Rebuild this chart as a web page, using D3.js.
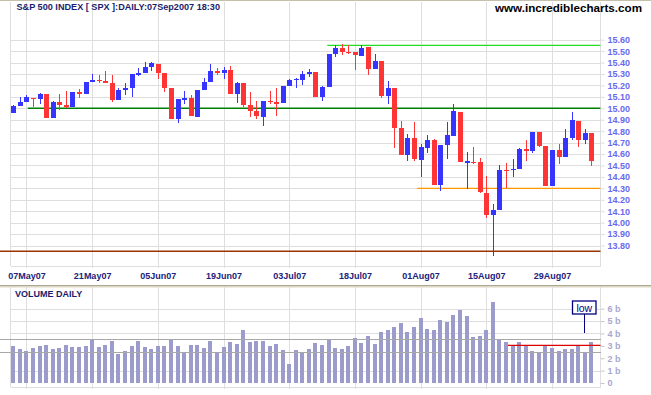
<!DOCTYPE html>
<html><head><meta charset="utf-8">
<script src="https://cdn.jsdelivr.net/npm/d3@7"></script>
<style>body{margin:0;background:#fff}svg{display:block}text{font-family:"Liberation Sans",Arial,sans-serif}</style>
</head><body><svg id="c" width="651" height="395"></svg>
<script>
const dates = ["03May07","04May07","07May07","08May07","09May07","10May07","11May07","14May07","15May07","16May07","17May07","18May07","21May07","22May07","23May07","24May07","25May07","29May07","30May07","31May07",
"01Jun07","04Jun07","05Jun07","06Jun07","07Jun07","08Jun07","11Jun07","12Jun07","13Jun07","14Jun07","15Jun07","18Jun07","19Jun07","20Jun07","21Jun07","22Jun07","25Jun07","26Jun07","27Jun07","28Jun07","29Jun07",
"02Jul07","03Jul07","05Jul07","06Jul07","09Jul07","10Jul07","11Jul07","12Jul07","13Jul07","16Jul07","17Jul07","18Jul07","19Jul07","20Jul07","23Jul07","24Jul07","25Jul07","26Jul07","27Jul07","30Jul07","31Jul07",
"01Aug07","02Aug07","03Aug07","06Aug07","07Aug07","08Aug07","09Aug07","10Aug07","13Aug07","14Aug07","15Aug07","16Aug07","17Aug07","20Aug07","21Aug07","22Aug07","23Aug07","24Aug07","27Aug07","28Aug07","29Aug07","30Aug07","31Aug07",
"04Sep07","05Sep07","06Sep07","07Sep07"];
const opens = [14.956,15.024,15.056,15.094,15.077,15.123,14.915,15.058,15.031,15.008,
15.140,15.127,15.228,15.251,15.241,15.221,15.075,15.156,15.176,15.302,
15.306,15.363,15.391,15.306,15.174,14.907,15.076,15.091,14.927,15.156,
15.230,15.329,15.310,15.337,15.125,15.222,15.026,14.977,14.923,15.063,
15.057,15.047,15.191,15.249,15.250,15.304,15.319,15.099,15.187,15.477,
15.525,15.495,15.492,15.461,15.532,15.341,15.416,15.110,15.181,14.824,
14.589,14.739,14.552,14.655,14.722,14.330,14.676,14.762,14.972,14.531,
14.534,14.529,14.262,14.066,14.113,14.459,14.456,14.470,14.641,14.623,
14.794,14.667,14.320,14.637,14.576,14.740,14.888,14.720,14.786];
const highs = [15.033,15.103,15.118,15.094,15.138,15.123,15.062,15.129,15.148,15.142,
15.171,15.228,15.299,15.292,15.324,15.293,15.174,15.218,15.302,15.356,
15.406,15.405,15.391,15.306,15.174,15.078,15.155,15.113,15.157,15.265,
15.387,15.354,15.359,15.373,15.229,15.222,15.143,15.061,15.068,15.148,
15.175,15.195,15.260,15.266,15.324,15.343,15.319,15.193,15.479,15.551,
15.559,15.553,15.492,15.552,15.532,15.472,15.416,15.243,15.181,14.885,
14.779,14.883,14.684,14.764,14.732,14.680,14.883,15.039,14.972,14.620,
14.663,14.567,14.408,14.160,14.503,14.518,14.553,14.649,14.721,14.794,
14.794,14.667,14.638,14.684,14.815,14.964,14.888,14.815,14.786];
const lows = [14.956,15.018,15.055,15.007,15.038,14.914,14.915,14.984,15.004,15.008,
15.093,15.127,15.227,15.221,15.219,15.052,15.075,15.120,15.101,15.283,
15.306,15.324,15.256,15.141,14.904,14.874,15.034,14.930,14.927,15.156,
15.230,15.293,15.257,15.124,15.048,15.007,14.927,14.905,14.842,15.034,
14.936,15.047,15.191,15.177,15.205,15.275,15.100,15.061,15.187,15.449,
15.467,15.477,15.337,15.461,15.292,15.341,15.086,15.037,14.653,14.590,
14.543,14.543,14.396,14.606,14.328,14.274,14.558,14.762,14.531,14.297,
14.515,14.262,14.044,13.706,14.113,14.305,14.398,14.470,14.539,14.605,
14.660,14.320,14.320,14.513,14.576,14.722,14.663,14.685,14.491];
const closes = [15.024,15.056,15.095,15.077,15.126,14.915,15.059,15.032,15.012,15.141,
15.128,15.228,15.251,15.241,15.223,15.075,15.157,15.181,15.302,15.306,
15.363,15.392,15.310,15.174,14.907,15.077,15.091,14.930,15.157,15.230,
15.329,15.311,15.337,15.128,15.222,15.026,14.977,14.929,15.063,15.057,
15.034,15.194,15.249,15.254,15.304,15.319,15.101,15.188,15.477,15.525,
15.495,15.494,15.462,15.531,15.341,15.416,15.110,15.181,14.827,14.590,
14.739,14.553,14.658,14.722,14.331,14.677,14.767,14.975,14.531,14.536,
14.529,14.265,14.067,14.113,14.459,14.456,14.471,14.641,14.625,14.794,
14.668,14.324,14.638,14.576,14.740,14.894,14.723,14.786,14.536];
const volumes = [3.00,2.76,2.62,2.84,3.00,3.08,2.76,2.84,3.08,2.92,
2.92,3.00,3.51,2.92,3.08,3.40,2.36,2.60,3.00,3.40,
2.92,2.76,3.00,3.00,3.56,3.00,2.52,3.08,3.08,2.84,
3.40,2.52,2.92,3.32,3.16,4.29,3.32,3.40,3.40,3.00,
3.16,2.68,1.55,2.68,2.44,2.76,3.20,3.10,3.51,2.84,
2.76,3.00,3.64,3.24,3.80,3.16,4.13,4.29,4.53,4.85,
4.13,4.53,5.25,4.37,4.29,5.09,4.93,5.49,5.90,5.41,
3.72,3.80,4.29,6.54,3.56,3.32,3.04,3.32,3.08,2.60,
2.44,3.08,2.84,2.60,2.76,2.76,3.00,2.52,3.32];
const xTickLabels = ["07May07","21May07","05Jun07","19Jun07","03Jul07","18Jul07","01Aug07","15Aug07","29Aug07"];
const priceTicks = [13.8,13.9,14.0,14.1,14.2,14.3,14.4,14.5,14.6,14.7,14.8,14.9,15.0,15.1,15.2,15.3,15.4,15.5,15.6];
const volTicks = [0,1,2,3,4,5,6];
const volTickLabels = ["0","1 b","2 b","3 b","4 b","5 b","6 b"];
const volGrid = [1,4,5,6];
const volBands = [2.54,3.54];
const volLowLine = {value:3.04, from:75.3};
const refLines = [
  {value:15.55, from:47.8, color:"#22dd22"},
  {value:15.00, from:2.2, color:"#008000"},
  {value:14.30, from:61.5, color:"#ff9900"},
  {value:13.75, from:null, color:"#993300"}
];
const title = "S&P 500 INDEX [ SPX ]:DAILY:07Sep2007 18:30";
const site = "www.incrediblecharts.com";

const svg = d3.select("#c");
const L = 10.5, R = 600.5, PT = 2, PB = 266, VT = 287, VB = 387;
const x = d3.scaleLinear().domain([0, dates.length-1]).range([13.3, 591.4]);
const y = d3.scaleLinear().domain([13.8, 15.6]).range([245.5, 39.7]);
const v = d3.scaleLinear().domain([0, 6]).range([383, 308.7]);
const gridC = "#dedede";

svg.append("rect").attr("width",651).attr("height",395).attr("fill","#fff");
// top border
svg.append("rect").attr("x",0).attr("y",0).attr("width",651).attr("height",1).attr("fill","#c4c0ac");
// separator between panels
svg.append("rect").attr("x",0).attr("y",285).attr("width",651).attr("height",1).attr("fill","#aca894");
svg.append("rect").attr("x",0).attr("y",286).attr("width",651).attr("height",1.5).attr("fill","#dcd8c4");

const xIdx = xTickLabels.map(d => dates.indexOf(d));

// price grid
const g = svg.append("g").attr("shape-rendering","crispEdges");
g.selectAll(".hg").data(priceTicks).join("line")
  .attr("x1",L).attr("x2",R).attr("y1",d=>Math.round(y(d))+0.5).attr("y2",d=>Math.round(y(d))+0.5)
  .attr("stroke",gridC);
g.selectAll(".vg").data(xIdx).join("line")
  .attr("x1",d=>Math.round(x(d))+0.5).attr("x2",d=>Math.round(x(d))+0.5).attr("y1",PT).attr("y2",PB+2)
  .attr("stroke",gridC);
g.append("line").attr("x1",L).attr("x2",L).attr("y1",PT).attr("y2",PB).attr("stroke",gridC);
g.append("line").attr("x1",R).attr("x2",R).attr("y1",PT).attr("y2",PB).attr("stroke",gridC);
g.append("line").attr("x1",L).attr("x2",R).attr("y1",PB+0.5).attr("y2",PB+0.5).attr("stroke",gridC);

// volume grid
g.selectAll(".vhg").data(volGrid).join("line")
  .attr("x1",L).attr("x2",R).attr("y1",d=>Math.round(v(d))+0.5).attr("y2",d=>Math.round(v(d))+0.5)
  .attr("stroke",gridC);
g.selectAll(".vvg").data(xIdx).join("line")
  .attr("x1",d=>Math.round(x(d))+0.5).attr("x2",d=>Math.round(x(d))+0.5).attr("y1",VT).attr("y2",VB+2)
  .attr("stroke",gridC);
g.append("line").attr("x1",L).attr("x2",L).attr("y1",VT).attr("y2",VB).attr("stroke",gridC);
g.append("line").attr("x1",R).attr("x2",R).attr("y1",VT).attr("y2",VB).attr("stroke",gridC);
g.append("line").attr("x1",L).attr("x2",R).attr("y1",VB+0.5).attr("y2",VB+0.5).attr("stroke",gridC);

// reference lines
svg.append("g").selectAll("line").data(refLines).join("line")
  .attr("x1",d=>d.from===null?0:x(d.from)).attr("x2",R)
  .attr("y1",d=>y(d.value)).attr("y2",d=>y(d.value))
  .attr("stroke",d=>d.color).attr("stroke-width",1.4);

// candles
const idx = d3.range(dates.length);
const cg = svg.append("g").attr("shape-rendering","crispEdges");
const col = i => closes[i] >= opens[i] ? "#3535ff" : "#ff3535";
cg.selectAll(".wick").data(idx).join("line")
  .attr("x1",i=>Math.round(x(i))+0.5).attr("x2",i=>Math.round(x(i))+0.5)
  .attr("y1",i=>y(highs[i])).attr("y2",i=>y(lows[i]))
  .attr("stroke",col).attr("stroke-width",1);
cg.selectAll(".body").data(idx).join("rect")
  .attr("x",i=>Math.round(x(i))-2).attr("width",5)
  .attr("y",i=>Math.min(y(opens[i]),y(closes[i])))
  .attr("height",i=>Math.max(1.2,Math.abs(y(opens[i])-y(closes[i]))))
  .attr("fill",col);

// volume bars
const vg = svg.append("g").attr("shape-rendering","crispEdges");
vg.selectAll("rect").data(idx).join("rect")
  .attr("x",i=>Math.round(x(i))-2).attr("width",4)
  .attr("y",i=>v(volumes[i])).attr("height",i=>v(0)-v(volumes[i]))
  .attr("fill","#9c9ccc");
svg.append("g").selectAll("line").data(volBands).join("line")
  .attr("x1",0).attr("x2",R).attr("y1",d=>Math.round(v(d))+0.5).attr("y2",d=>Math.round(v(d))+0.5)
  .attr("stroke","#a8a8a8").attr("stroke-width",1).attr("shape-rendering","crispEdges");
svg.append("line").attr("x1",x(volLowLine.from)).attr("x2",R)
  .attr("y1",v(volLowLine.value)).attr("y2",v(volLowLine.value))
  .attr("stroke","#dd0000").attr("stroke-width",1.4);

// price axis
const pa = svg.append("g").attr("transform",`translate(${R},0)`)
  .call(d3.axisRight(y).tickValues(priceTicks).tickFormat(d3.format(".2f")).tickSize(4).tickPadding(3));
pa.select(".domain").remove();
pa.selectAll("line").attr("stroke",gridC);
pa.selectAll("text").attr("fill","#6a6aee").attr("font-size","9px").attr("font-weight","bold")
  .style("font-family","'Liberation Sans',Arial,sans-serif");

// volume axis
const va = svg.append("g").attr("transform",`translate(${R},0)`)
  .call(d3.axisRight(v).tickValues(volTicks).tickFormat((d,i)=>volTickLabels[i]).tickSize(4).tickPadding(3));
va.select(".domain").remove();
va.selectAll("line").attr("stroke","#c8c8c8");
va.selectAll("text").attr("fill","#a8a8d0").attr("font-size","9px").attr("font-weight","bold")
  .style("font-family","'Liberation Sans',Arial,sans-serif");

// x axis
const xa = svg.append("g").attr("transform",`translate(0,${PB})`)
  .call(d3.axisBottom(x).tickValues(xIdx).tickFormat(i=>dates[i]).tickSize(0).tickPadding(7));
xa.select(".domain").remove();
xa.selectAll("text").attr("fill","#22227a").attr("font-size","9px").attr("font-weight","bold")
  .style("font-family","'Liberation Sans',Arial,sans-serif");

// texts
svg.append("text").attr("x",16.5).attr("y",10.3).text(title)
  .attr("font-size","9px").attr("font-weight","bold").attr("fill","#1c1c6c")
  .attr("textLength",203.5).attr("lengthAdjust","spacingAndGlyphs");
svg.append("text").attr("x",495).attr("y",11.7).text(site)
  .attr("font-size","11px").attr("font-weight","bold").attr("fill","#000")
  .attr("textLength",147).attr("lengthAdjust","spacingAndGlyphs");
svg.append("text").attr("x",15).attr("y",297).text("VOLUME DAILY")
  .attr("font-size","9px").attr("font-weight","bold").attr("fill","#1c1c6c");

// low annotation
const lowAnn = {label:"low"};
svg.append("line").attr("x1",584.5).attr("x2",584.5).attr("y1",314).attr("y2",333)
  .attr("stroke","#000080").attr("stroke-width",1);
svg.append("rect").attr("x",572.5).attr("y",301).attr("width",23.5).attr("height",13)
  .attr("fill","#fff").attr("stroke","#000080").attr("stroke-width",1.3);
svg.append("text").attr("x",584.3).attr("y",311.5).attr("text-anchor","middle").text(lowAnn.label)
  .attr("font-size","10.5px").attr("fill","#000080");
</script></body></html>
